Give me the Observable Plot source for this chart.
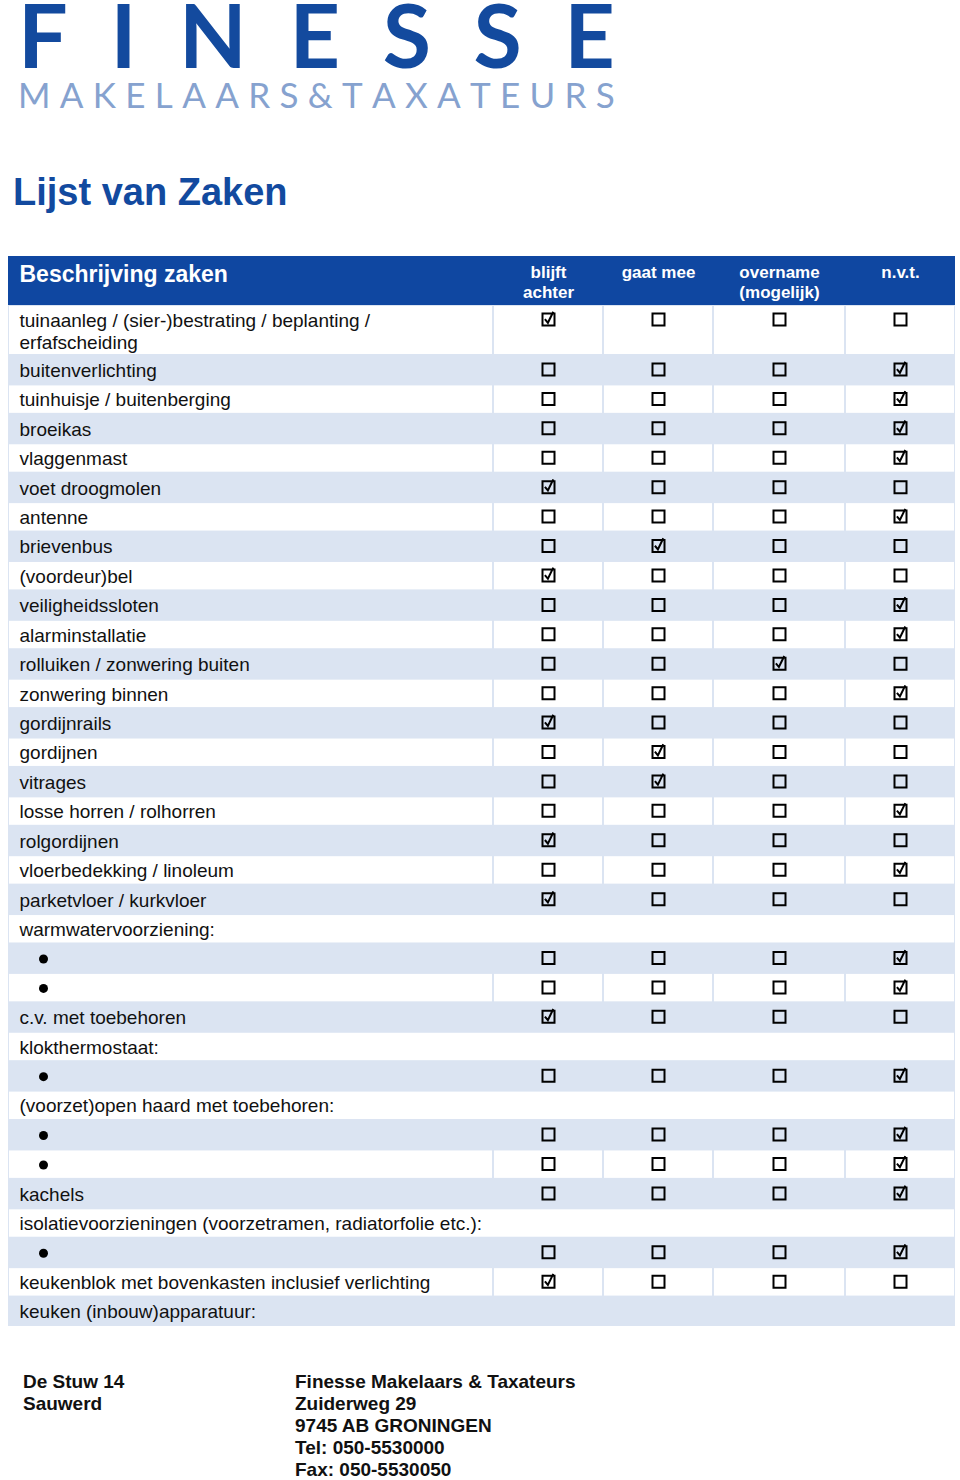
<!DOCTYPE html>
<html>
<head>
<meta charset="utf-8">
<script src="https://cdn.jsdelivr.net/npm/d3@7"></script>
<script src="https://cdn.jsdelivr.net/npm/@observablehq/plot@0.6"></script>
<style>
  html, body { margin: 0; padding: 0; background: #fff; }
  body { width: 960px; height: 1480px; position: relative; overflow: hidden; font-family: "Liberation Sans", Arial, sans-serif; }
  .logo { position: absolute; left: 18px; width: 597px; display: flex; justify-content: space-between; white-space: pre; font-family: Lato, "DejaVu Sans", sans-serif; }
  #logo1 { top: 2px; font-size: 88px; line-height: 64px; font-weight: 700; color: #134a9e; }
  #logo2 { top: 81px; font-size: 35px; line-height: 26px; font-weight: 400; color: #86a2cf; }
  #title { position: absolute; left: 13px; top: 173px; font-size: 38px; font-weight: bold; color: #124a9f; line-height: 1; }
  #chart { position: absolute; left: 0; top: 250px; width: 960px; }
  #chart svg { max-width: none !important; }
  .foot { position: absolute; top: 1371px; font-size: 19px; font-weight: bold; line-height: 22px; color: #111; }
  #foot1 { left: 23px; }
  #foot2 { left: 295px; }
</style>
</head>
<body>
<div id="logo1" class="logo"></div>
<div id="logo2" class="logo"></div>
<div id="title">Lijst van Zaken</div>
<div id="chart"></div>
<div id="foot1" class="foot"></div>
<div id="foot2" class="foot"></div>
<script>
// ---- data ----
const logoName = "FINESSE";
const logoSub = "MAKELAARS&TAXATEURS";
const headerLabel = "Beschrijving zaken";
const columns = ["blijft\nachter", "gaat mee", "overname\n(mogelijk)", "n.v.t."];
const descriptions = [
  "tuinaanleg / (sier-)bestrating / beplanting /\nerfafscheiding",
  "buitenverlichting",
  "tuinhuisje / buitenberging",
  "broeikas",
  "vlaggenmast",
  "voet droogmolen",
  "antenne",
  "brievenbus",
  "(voordeur)bel",
  "veiligheidssloten",
  "alarminstallatie",
  "rolluiken / zonwering buiten",
  "zonwering binnen",
  "gordijnrails",
  "gordijnen",
  "vitrages",
  "losse horren / rolhorren",
  "rolgordijnen",
  "vloerbedekking / linoleum",
  "parketvloer / kurkvloer",
  "warmwatervoorziening:",
  "•",
  "•",
  "c.v. met toebehoren",
  "klokthermostaat:",
  "•",
  "(voorzet)open haard met toebehoren:",
  "•",
  "•",
  "kachels",
  "isolatievoorzieningen (voorzetramen, radiatorfolie etc.):",
  "•",
  "keukenblok met bovenkasten inclusief verlichting",
  "keuken (inbouw)apparatuur:"
];
// index of the ticked column (0 blijft achter, 1 gaat mee, 2 overname, 3 n.v.t.), null = no boxes
const choices = [0,3,3,3,3,0,3,1,0,3,3,2,3,0,1,1,3,0,3,0,null,3,3,0,null,3,null,3,3,3,null,3,0,null];
const footerLeft = ["De Stuw 14", "Sauwerd"];
const footerRight = ["Finesse Makelaars & Taxateurs", "Zuiderweg 29", "9745 AB GRONINGEN", "Tel: 050-5530000", "Fax: 050-5530050"];

// ---- styles ----
const darkBlue = "#0f47a1";
const lightBlue = "#dbe4f2";
const ink = "#111";

// ---- html text ----
for (const ch of logoName) { const s = document.createElement("span"); s.textContent = ch; document.getElementById("logo1").appendChild(s); }
for (const ch of logoSub) { const s = document.createElement("span"); s.textContent = ch; document.getElementById("logo2").appendChild(s); }
document.getElementById("foot1").innerHTML = footerLeft.join("<br>");
document.getElementById("foot2").innerHTML = footerRight.join("<br>");

// ---- table data ----
const rows = descriptions.map((label, i) => ({i, label, choice: choices[i], bullet: label === "•"}));
const boxes = rows.filter(r => r.choice != null)
  .flatMap(r => columns.map((c, j) => ({row: r.i, col: j, checked: j === r.choice})));
const nCols = columns.length + 1;
const whiteCells = rows.filter(r => r.i % 2 === 0).flatMap(r =>
  r.choice == null
    ? [{row: r.i, c1: 0, c2: nCols}]
    : [{row: r.i, c1: 0, c2: 1}, ...columns.map((c, j) => ({row: r.i, c1: j + 1, c2: j + 2}))]);

// layout: column edges and row edges (table geometry, unequal widths/heights)
const colEdge = d3.scaleLinear().domain([0, 1, 2, 3, 4, 5]).range([8, 493, 603, 713, 845, 955]);
const rowEdge = d3.scaleLinear().domain([-1, 0, 1, rows.length]).range([6, 55, 105, 1076]);

// custom symbols
const boxSym = {draw(ctx, size) {
  const r = Math.sqrt(size / Math.PI);
  ctx.moveTo(-r, -r); ctx.lineTo(r, -r); ctx.lineTo(r, r); ctx.lineTo(-r, r); ctx.closePath();
}};
const checkSym = {draw(ctx, size) {
  const r = Math.sqrt(size / Math.PI);
  ctx.moveTo(-r, -r); ctx.lineTo(r, -r); ctx.lineTo(r, r); ctx.lineTo(-r, r); ctx.closePath();
  ctx.moveTo(-r * 0.6, -r * 0.05); ctx.lineTo(-r * 0.1, r * 0.55); ctx.lineTo(r * 0.8, -r * 1.3);
}};

const chart = Plot.plot({
  width: 960,
  height: 1090,
  margin: 0,
  x: {type: "linear", transform: colEdge, domain: [0, 960], range: [0, 960], axis: null},
  y: {type: "linear", transform: rowEdge, domain: [0, 1090], range: [0, 1090], axis: null},
  style: {fontFamily: "'Liberation Sans', Arial, sans-serif", background: "white", overflow: "visible"},
  marks: [
    // body background (light blue rows)
    Plot.rect([rows.length], {x1: 0, x2: nCols, y1: 0, y2: d => d, fill: lightBlue}),
    // white rows with light blue borders
    Plot.rect(whiteCells, {x1: "c1", x2: "c2", y1: "row", y2: d => d.row + 1, fill: "white", inset: 1}),
    // header band
    Plot.rect([0], {x1: 0, x2: nCols, y1: -1, y2: d => d, fill: darkBlue}),
    Plot.text([headerLabel], {x: 0, y: -1, dx: 11, dy: 9, text: d => d, textAnchor: "start", lineAnchor: "top",
      fill: "white", fontSize: 23, fontWeight: "bold"}),
    Plot.text(columns, {x: (d, j) => j + 1.5, y: -1, dy: 7, text: d => d, textAnchor: "middle", lineAnchor: "top",
      fill: "white", fontSize: 17, fontWeight: "bold", lineHeight: 1.18}),
    // descriptions
    Plot.text(rows.filter(r => !r.bullet), {x: 0, y: "i", dx: 11, dy: 6, text: "label", textAnchor: "start",
      lineAnchor: "top", fill: ink, fontSize: 19, lineHeight: 1.14}),
    // bullets
    Plot.dot(rows.filter(r => r.bullet), {x: 0, y: "i", dx: 35, dy: 15, r: 4.5, fill: "black"}),
    // checkboxes
    Plot.dot(boxes.filter(b => !b.checked), {x: d => d.col + 1.5, y: "row", dy: 14, r: 6, symbol: boxSym,
      stroke: "black", strokeWidth: 2, fill: "none"}),
    Plot.dot(boxes.filter(b => b.checked), {x: d => d.col + 1.5, y: "row", dy: 14, r: 6, symbol: checkSym,
      stroke: "black", strokeWidth: 2, fill: "none", strokeLinejoin: "miter"})
  ]
});
document.getElementById("chart").appendChild(chart);
</script>
</body>
</html>
